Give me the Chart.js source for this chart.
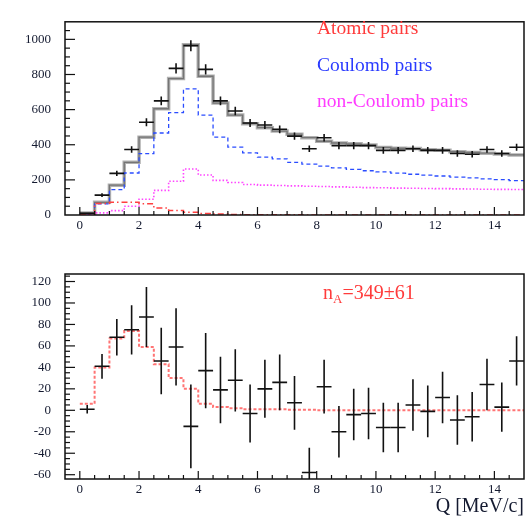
<!DOCTYPE html>
<html>
<head>
<meta charset="utf-8">
<script src="https://cdn.jsdelivr.net/npm/chart.js@4.4.1/dist/chart.umd.min.js"></script>
<style>
  body { margin: 0; background: #fff; }
  #wrap { position: relative; width: 526px; height: 517px; }
  canvas { position: absolute; left: 0; }
  #top { top: 0; }
  #bottom { top: 240px; }
</style>
</head>
<body>
<div id="wrap">
  <canvas id="top" width="526" height="240"></canvas>
  <canvas id="bottom" width="526" height="277"></canvas>
</div>
<script>
(function() {

    // bin edges, Q in MeV/c
    let edges = [0, 0.5, 1, 1.5, 2, 2.5, 3, 3.5, 4, 4.5, 5, 5.5, 6, 6.5, 7, 7.5, 8, 8.5, 9, 9.5,
                 10, 10.5, 11, 11.5, 12, 12.5, 13, 13.5, 14, 14.5, 15];

    // top panel: measured counts and their errors
    let dataCounts = [10, 113, 237, 373, 528, 650, 835, 964, 829, 650, 592, 524, 512, 488, 449,
                      377, 440, 395, 395, 395, 368, 368, 377, 368, 368, 350, 346, 373, 350, 386];
    let dataErrors = [4, 11, 15, 19, 23, 25, 29, 31, 29, 25, 24, 23, 23, 22, 21,
                      19, 21, 20, 20, 20, 19, 19, 19, 19, 19, 19, 19, 19, 19, 20];

    // top panel: fitted components
    let totalFit = [12, 72, 170, 300, 443, 605, 777, 970, 790, 637, 569, 520, 497, 478, 460,
                    440, 420, 410, 405, 398, 385, 380, 378, 372, 368, 360, 356, 352, 348, 342];
    let coulomb = [5, 63, 144, 239, 350, 467, 583, 718, 569, 443, 386, 354, 329, 320, 300,
                   290, 278, 268, 260, 252, 245, 238, 232, 227, 222, 216, 211, 206, 201, 196];
    let nonCoulomb = [4, 12, 25, 50, 90, 140, 192, 262, 228, 197, 185, 174, 170, 168, 166,
                      164, 162, 160, 158, 156, 155, 153, 152, 151, 150, 149, 148, 147, 146, 145];
    let atomic = [2, 66, 72, 72, 64, 40, 25, 16, 9, 5, 3, 2, 1, 1, 1,
                  0, 0, 0, 0, 0, 0, 0, 0, 0, 0, 0, 0, 0, 0, 0];

    // bottom panel: residuals (data - background) and the atomic pairs shape
    let residual = [1, 41, 68, 75, 87, 46, 59, -15, 37, 19, 28, -3, 20, 26, 7,
                    -58, 22, -20, -4, -3, -16, -16, 5, -1, 12, -9, -6, 24, 3, 46];
    let residualErrors = [4, 11.5, 17, 23, 28, 31, 36, 39, 35, 31, 29, 27, 27, 26, 25,
                          23, 25, 24, 24, 24, 23, 23, 24, 24, 24, 23, 23, 24, 23, 23];
    let atomicFit = [6, 40, 67, 74, 59, 43, 30, 20, 6, 3, 2, 1, 1, 1, 0.5,
                     0.5, 0, 0, 0, 0, 0, 0, 0, 0, 0, 0, 0, 0, 0, 0];

    let legendLabels = ['Atomic pairs', 'Coulomb pairs', 'non-Coulomb pairs'];
    let legendColors = ['#ff3b3b', '#2b3cff', '#ff3cff'];

    let serif = "'Liberation Serif', 'DejaVu Serif', serif";
    let inkColor = '#141a30';

    /**
     * Histogram as step points (left edge of each bin + closing edge)
     */
    let toSteps = values => {
        let pts = values.map((v, i) => ({ x: edges[i], y: v }));
        pts.push({ x: edges[edges.length - 1], y: values[values.length - 1] });
        return pts;
    };

    let toCrosses = (values, errors) => values.map((v, i) => ({
        x: (edges[i] + edges[i + 1]) / 2,
        y: v,
        lo: edges[i],
        hi: edges[i + 1],
        err: errors[i]
    }));

    let stepLine = (values, color, width, dash) => ({
        type: 'line',
        data: toSteps(values),
        stepped: true,
        borderColor: color,
        borderWidth: width,
        borderDash: dash,
        pointRadius: 0,
        fill: false
    });

    /**
     * Crosses: horizontal bin width, vertical error
     */
    let errorBars = {
        id: 'errorBars',
        afterDatasetsDraw(chart) {
            let { ctx, chartArea, scales } = chart;
            ctx.save();
            ctx.beginPath();
            ctx.rect(chartArea.left, chartArea.top, chartArea.width, chartArea.height);
            ctx.clip();
            ctx.strokeStyle = '#111';
            ctx.lineWidth = 1.6;
            chart.data.datasets.forEach(ds => {
                if (!ds.crosses) return;
                ds.data.forEach(p => {
                    let x = scales.x.getPixelForValue(p.x);
                    let y = scales.y.getPixelForValue(p.y);
                    ctx.beginPath();
                    ctx.moveTo(scales.x.getPixelForValue(p.lo), y);
                    ctx.lineTo(scales.x.getPixelForValue(p.hi), y);
                    ctx.moveTo(x, scales.y.getPixelForValue(p.y - p.err));
                    ctx.lineTo(x, scales.y.getPixelForValue(p.y + p.err));
                    ctx.stroke();
                });
            });
            ctx.restore();
        }
    };

    /**
     * ROOT style frame with inward ticks
     */
    let frame = {
        id: 'frame',
        afterDraw(chart, args, opts) {
            let { ctx, chartArea, scales } = chart;
            let { left, right, top, bottom } = chartArea;
            ctx.save();
            ctx.strokeStyle = '#111';
            ctx.lineWidth = 1.2;

            let drawTicks = (scale, major, minor, horizontal) => {
                let start = Math.ceil(scale.min / minor) * minor;
                for (let v = start; v <= scale.max + 1e-9; v += minor) {
                    let isMajor = Math.abs(v / major - Math.round(v / major)) < 1e-6;
                    let p = scale.getPixelForValue(v);
                    ctx.beginPath();
                    if (horizontal) {
                        if (p <= left + 1 || p >= right - 1) continue;
                        ctx.moveTo(p, bottom);
                        ctx.lineTo(p, bottom - (isMajor ? 8 : 4));
                    } else {
                        if (p <= top + 1 || p >= bottom - 1) continue;
                        ctx.moveTo(left, p);
                        ctx.lineTo(left + (isMajor ? 10 : 5), p);
                    }
                    ctx.stroke();
                }
            };

            drawTicks(scales.x, 2, 0.5, true);
            drawTicks(scales.y, opts.yMajor, opts.yMinor, false);

            ctx.lineWidth = 1.5;
            ctx.strokeRect(left, top, right - left, bottom - top);
            ctx.restore();
        }
    };

    let legendText = {
        id: 'legendText',
        afterDraw(chart) {
            let { ctx } = chart;
            ctx.save();
            ctx.font = '19.5px ' + serif;
            ctx.textBaseline = 'alphabetic';
            legendLabels.forEach((label, i) => {
                ctx.fillStyle = legendColors[i];
                ctx.fillText(label, 317, 34 + i * 36.5);
            });
            ctx.restore();
        }
    };

    let yieldText = {
        id: 'yieldText',
        afterDraw(chart) {
            let { ctx } = chart;
            ctx.save();
            ctx.fillStyle = '#ff3b3b';
            ctx.textBaseline = 'alphabetic';
            ctx.font = '20px ' + serif;
            let x = 323, y = 59;
            ctx.fillText('n', x, y);
            x += ctx.measureText('n').width;
            ctx.font = '13px ' + serif;
            ctx.fillText('A', x, y + 4);
            x += ctx.measureText('A').width;
            ctx.font = '20px ' + serif;
            ctx.fillText('=349±61', x, y);
            ctx.restore();
        }
    };

    let xAxis = (height, title) => ({
        type: 'linear',
        min: -0.5,
        max: 15,
        grid: { display: false, drawTicks: false },
        border: { display: false },
        ticks: {
            stepSize: 2,
            includeBounds: false,
            padding: 3,
            color: inkColor,
            font: { family: serif, size: 13 },
            maxRotation: 0
        },
        title: title ? {
            display: true,
            text: title,
            align: 'end',
            color: inkColor,
            font: { family: serif, size: 20 },
            padding: { top: 0, bottom: -2 }
        } : { display: false },
        afterFit: scale => { scale.height = height; }
    });

    let yAxis = (min, max, step) => ({
        type: 'linear',
        min: min,
        max: max,
        grid: { display: false, drawTicks: false },
        border: { display: false },
        ticks: {
            stepSize: step,
            includeBounds: false,
            padding: 14,
            color: inkColor,
            font: { family: serif, size: 13 },
            callback: value => String(value)
        },
        afterFit: scale => { scale.width = 65; }
    });

    let baseOptions = {
        responsive: false,
        animation: false,
        devicePixelRatio: 1,
        plugins: { legend: { display: false }, tooltip: { enabled: false } }
    };

    new Chart(document.getElementById('top'), {
        type: 'scatter',
        data: {
            datasets: [
                stepLine(atomic, '#ff4040', 1.5, [6, 3, 1.5, 3]),
                stepLine(nonCoulomb, '#ff44ff', 1.6, [1.5, 2]),
                stepLine(coulomb, '#2a4cff', 1.3, [4, 3]),
                stepLine(totalFit, 'rgba(150,150,150,0.75)', 3.5, []),
                stepLine(totalFit, '#151515', 1.3, []),
                {
                    type: 'scatter',
                    data: toCrosses(dataCounts, dataErrors),
                    crosses: true,
                    pointRadius: 0
                }
            ]
        },
        options: Object.assign({}, baseOptions, {
            layout: { padding: { top: 9, right: 2, left: 0, bottom: 0 } },
            scales: { x: xAxis(25), y: yAxis(0, 1100, 200) },
            plugins: Object.assign({}, baseOptions.plugins, { frame: { yMajor: 200, yMinor: 50 } })
        }),
        plugins: [errorBars, frame, legendText]
    });

    new Chart(document.getElementById('bottom'), {
        type: 'scatter',
        data: {
            datasets: [
                stepLine(atomicFit, 'rgba(255,70,70,0.75)', 2, [3, 2]),
                {
                    type: 'scatter',
                    data: toCrosses(residual, residualErrors),
                    crosses: true,
                    pointRadius: 0
                }
            ]
        },
        options: Object.assign({}, baseOptions, {
            layout: { padding: { top: 34, right: 2, left: 0, bottom: 0 } },
            scales: { x: xAxis(38, 'Q [MeV/c]'), y: yAxis(-64, 127, 20) },
            plugins: Object.assign({}, baseOptions.plugins, { frame: { yMajor: 20, yMinor: 5 } })
        }),
        plugins: [errorBars, frame, yieldText]
    });

})();
</script>
</body>
</html>
